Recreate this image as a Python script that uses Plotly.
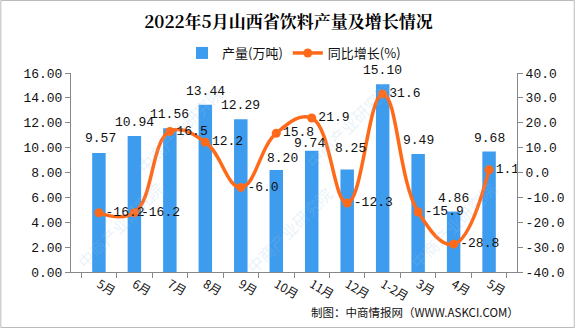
import plotly.graph_objects as go

categories = ["5月", "6月", "7月", "8月", "9月", "10月", "11月", "12月", "1-2月", "3月", "4月", "5月 "]
output_wt = [9.57, 10.94, 11.56, 13.44, 12.29, 8.20, 9.74, 8.25, 15.10, 9.49, 4.86, 9.68]
growth_pct = [-16.2, -16.2, 16.5, 12.2, -6.0, 15.8, 21.9, -12.3, 31.6, -15.9, -28.8, 1.1]
left_ticks = [0, 2, 4, 6, 8, 10, 12, 14, 16]
right_ticks = [-40, -30, -20, -10, 0, 10, 20, 30, 40]

# label placement (pixels above bar top / sideways), as nudged in the original chart
bar_label_lift = [14, 13, 14, 13, 14, 12, 7, 21, 14, 13, 13, 13]
bar_label_side = [2, 0, 0, 0, 0, 6, -2, 3, 0, 0, 0, 0]

MONO = "Liberation Mono, DejaVu Sans Mono, monospace"
CJK = "Noto Sans CJK SC, sans-serif"

L, R, T, B = 71, 58, 73, 56
PW, PH = 577 - L - R, 328 - T - B


def px(x):
    return (x - L) / PW


def py(y):
    return (328 - B - y) / PH


fig = go.Figure()
fig.add_trace(go.Bar(
    x=categories, y=output_wt, name="产量(万吨)",
    marker=dict(color="#3d9cee", line=dict(width=0)),
    width=0.38,
))
fig.add_trace(go.Scatter(
    x=categories, y=growth_pct, name="同比增长(%)", yaxis="y2",
    mode="lines+markers+text",
    line=dict(color="#ff6a1a", width=3.5, shape="spline", smoothing=1.2),
    marker=dict(color="#ff6a1a", size=9),
    text=[f"{v:.1f}" for v in growth_pct], textposition="middle right",
    textfont=dict(family=MONO, size=13, color="#111"),
    cliponaxis=False,
))

# bar value labels
labels = []
for c, v, lift, side in zip(categories, output_wt, bar_label_lift, bar_label_side):
    labels.append(dict(text=f"{v:.2f}", x=c, y=v, xref="x", yref="y", showarrow=False,
                       xanchor="center", yanchor="middle", yshift=lift, xshift=side,
                       font=dict(family=MONO, size=13, color="#111")))

# faint watermark (background only)
wm = []
for (x, y) in [(180, 130), (350, 125), (120, 225), (290, 230), (455, 225)]:
    wm.append(dict(text="中商产业研究院", x=px(x), y=py(y), xref="paper", yref="paper",
                   yanchor="middle", xanchor="center", showarrow=False, textangle=-45,
                   font=dict(family=CJK, size=16, color="rgba(150,195,230,0.22)")))

fig.update_layout(
    width=577, height=328,
    margin=dict(l=L, r=R, t=T, b=B),
    paper_bgcolor="white", plot_bgcolor="white",
    title=dict(text="<b>2022年5月山西省饮料产量及增长情况</b>", x=0.5, xanchor="center",
               y=1 - 22 / 328, yanchor="middle",
               font=dict(family="Noto Serif CJK SC, Noto Sans CJK SC, serif", size=17, color="#000")),
    legend=dict(orientation="h", x=0.5, xanchor="center", y=py(53), yanchor="middle",
                font=dict(family=CJK, size=13, color="#111"), itemwidth=30,
                bgcolor="rgba(0,0,0,0)", traceorder="normal"),
    xaxis=dict(showline=True, linecolor="#888", linewidth=1, ticks="outside", ticklen=5,
               tickcolor="#888", tickson="boundaries", showgrid=False,
               tickfont=dict(family=CJK, size=12, color="#111")),
    yaxis=dict(range=[0, 16], tickvals=left_ticks, ticktext=[f"{v:.2f}" for v in left_ticks],
               showline=True, linecolor="#888", linewidth=1, ticks="outside", ticklen=5,
               tickcolor="#888", showgrid=False, zeroline=False,
               tickfont=dict(family=MONO, size=13, color="#111")),
    yaxis2=dict(range=[-40, 40], tickvals=right_ticks, ticktext=[f"{v:.1f}" for v in right_ticks],
                overlaying="y", side="right",
                showline=True, linecolor="#888", linewidth=1, ticks="outside", ticklen=5,
                tickcolor="#888", showgrid=False, zeroline=False,
                tickfont=dict(family=MONO, size=13, color="#111")),
    annotations=wm + labels + [dict(text="制图：中商情报网（WWW.ASKCI.COM）", x=px(523), y=py(312),
                                    xref="paper", yref="paper", xanchor="right", yanchor="middle",
                                    showarrow=False, font=dict(family=CJK, size=11.5, color="#111"))],
    shapes=[dict(type="rect", xref="paper", yref="paper", x0=px(0.5), x1=px(576.5),
                 y0=py(327.5), y1=py(0.5), line=dict(color="#bbb", width=1))],
    showlegend=True,
)
fig.write_html("out.html")
